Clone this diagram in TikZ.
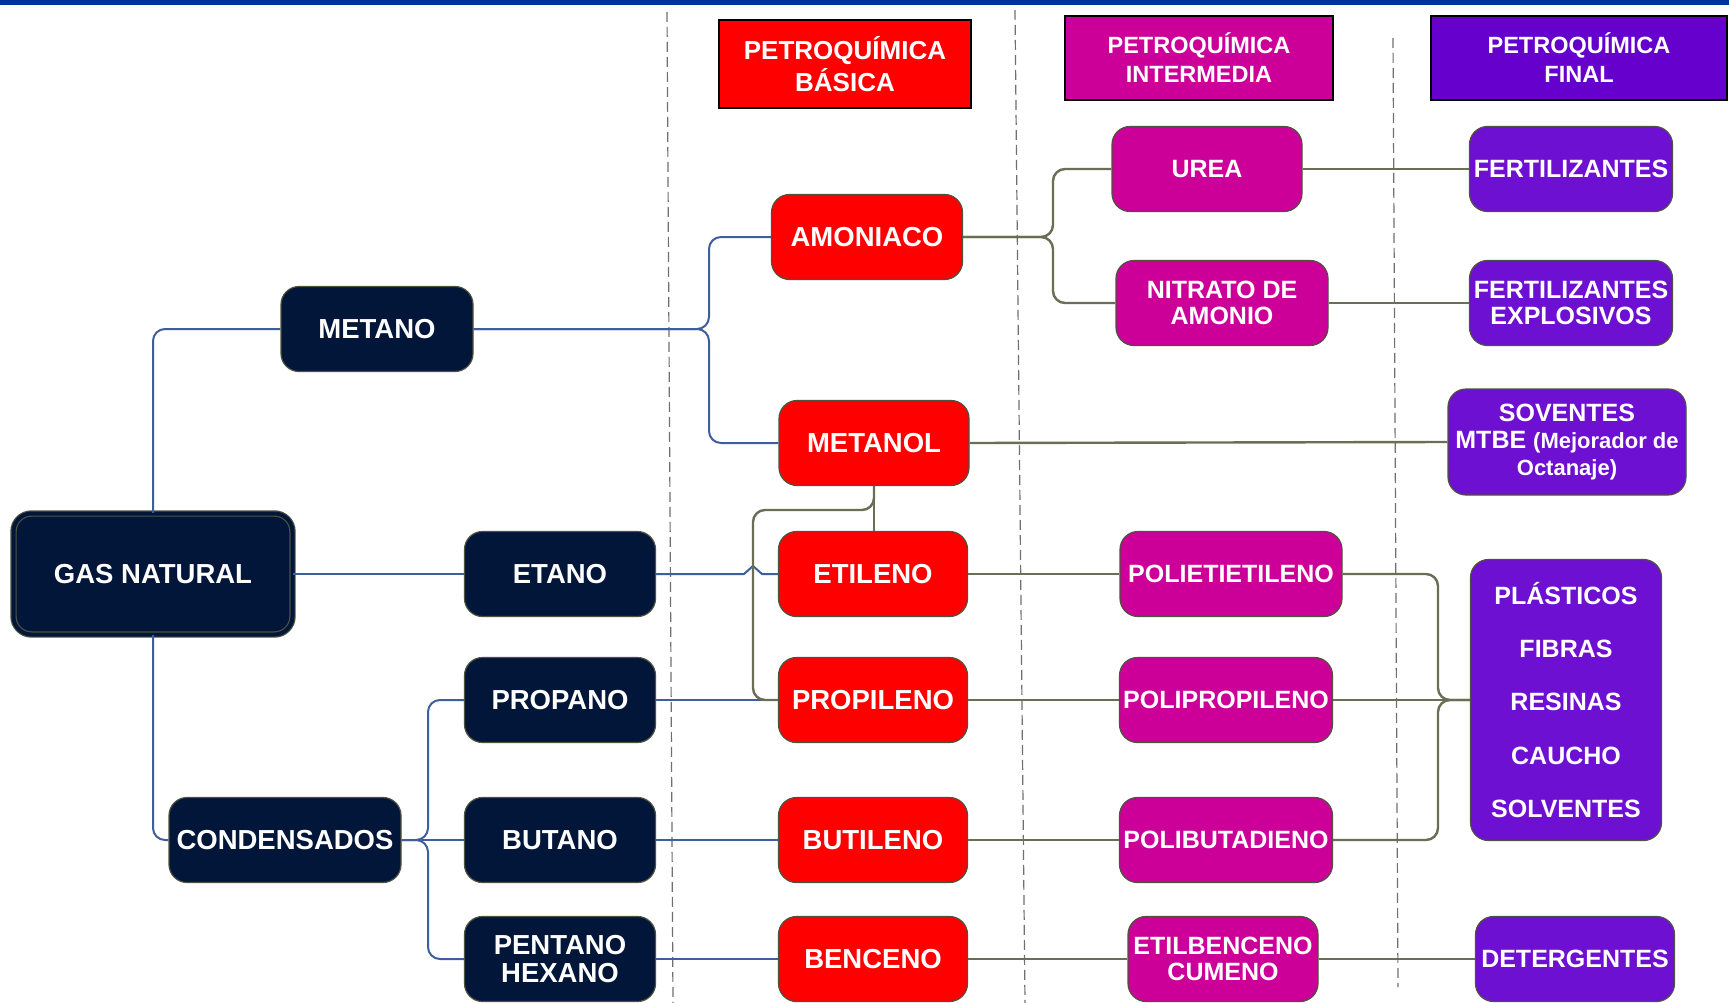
\documentclass[tikz,border=0pt]{standalone}
\usepackage{fontspec}
\setmainfont{Liberation Sans}
\usepackage{tikz}
\definecolor{gasnavy}{HTML}{02163A}
\definecolor{basred}{HTML}{FF0000}
\definecolor{intmag}{HTML}{CC0099}
\definecolor{finpurple}{HTML}{6E10D2}
\definecolor{hdrpurple}{HTML}{6600CC}
\definecolor{linkblue}{HTML}{3F5E9C}
\definecolor{linkolive}{HTML}{6B6D55}
\definecolor{boxedge}{HTML}{4E5240}
\definecolor{topbar}{HTML}{0033A0}
\definecolor{sepgray}{HTML}{707070}
\tikzset{
  chem/.style={draw=boxedge, line width=1.2pt, rounded corners=18pt, align=center, text=white, inner sep=2pt, minimum height=85pt, font=\bfseries\fontsize{25}{26.5}\selectfont},
  gasbox/.style={chem, fill=gasnavy, font=\bfseries\fontsize{27.5}{28}\selectfont},
  basbox/.style={chem, fill=basred, font=\bfseries\fontsize{27.5}{28}\selectfont},
  intbox/.style={chem, fill=intmag},
  finbox/.style={chem, fill=finpurple},
  header/.style={draw=black, line width=2pt, align=center, text=white, font=\bfseries\fontsize{23.5}{29}\selectfont},
  bluelink/.style={draw=linkblue, line width=2pt, rounded corners=12pt},
  olivelink/.style={draw=linkolive, line width=2.4pt, rounded corners=12pt},
  colsep/.style={draw=sepgray, line width=1.2pt, dash pattern=on 10pt off 5pt}
}

\begin{document}
\begin{tikzpicture}[x=1pt,y=-1pt]
  \useasboundingbox (0,0) rectangle (1729,1003);
  \fill[white] (0,0) rectangle (1729,1003);
  \fill[topbar] (0,0) rectangle (1729,5);

  % column separators
  \draw[colsep] (667,12) -- (673,1003);
  \draw[colsep] (1015,10) -- (1025,1003);
  \draw[colsep] (1393,38) -- (1398,987);

  % headers
  \node[header, fill=basred, minimum width=252pt, minimum height=88pt, font=\bfseries\fontsize{26}{32}\selectfont] (hbasica) at (845,64) {PETROQUÍMICA\\BÁSICA};
  \node[header, fill=intmag, minimum width=268pt, minimum height=84pt] (hinter) at (1199,58) {PETROQUÍMICA\\INTERMEDIA};
  \node[header, fill=hdrpurple, minimum width=296pt, minimum height=84pt] (hfinal) at (1579,58) {PETROQUÍMICA\\FINAL};

  % raw materials
  \node[gasbox, minimum width=279pt, minimum height=121pt, draw=boxedge, double=gasnavy, double distance=4pt] (gas) at (153,574) {GAS NATURAL};
  \node[gasbox, minimum width=192pt] (metano) at (377,329) {METANO};
  \node[gasbox, minimum width=191pt] (etano) at (560,574) {ETANO};
  \node[gasbox, minimum width=232pt] (conden) at (285,840) {CONDENSADOS};
  \node[gasbox, minimum width=191pt] (propano) at (560,700) {PROPANO};
  \node[gasbox, minimum width=191pt] (butano) at (560,840) {BUTANO};
  \node[gasbox, minimum width=191pt] (pentano) at (560,959) {PENTANO\\HEXANO};

  % basic
  \node[basbox, minimum width=191pt] (amoniaco) at (867,237) {AMONIACO};
  \node[basbox, minimum width=190pt] (metanol) at (874,443) {METANOL};
  \node[basbox, minimum width=189pt] (etileno) at (873,574) {ETILENO};
  \node[basbox, minimum width=189pt] (propileno) at (873,700) {PROPILENO};
  \node[basbox, minimum width=189pt] (butileno) at (873,840) {BUTILENO};
  \node[basbox, minimum width=189pt] (benceno) at (873,959) {BENCENO};

  % intermediate
  \node[intbox, minimum width=190pt] (urea) at (1207,169) {UREA};
  \node[intbox, minimum width=212pt] (nitrato) at (1222,303) {NITRATO DE\\AMONIO};
  \node[intbox, minimum width=222pt] (polietil) at (1231,574) {POLIETIETILENO};
  \node[intbox, minimum width=213pt] (polipro) at (1226,700) {POLIPROPILENO};
  \node[intbox, minimum width=213pt] (polibut) at (1226,840) {POLIBUTADIENO};
  \node[intbox, minimum width=190pt] (etilben) at (1223,959) {ETILBENCENO\\CUMENO};

  % final
  \node[finbox, minimum width=203pt] (fert) at (1571,169) {FERTILIZANTES};
  \node[finbox, minimum width=203pt] (fertexp) at (1571,303) {FERTILIZANTES\\EXPLOSIVOS};
  \node[finbox, minimum width=238pt, minimum height=106pt, font=\bfseries\fontsize{25}{27}\selectfont] (solv) at (1567,442) {SOVENTES\\MTBE {\fontsize{22}{27}\selectfont(Mejorador de}\\{\fontsize{22}{27}\selectfont Octanaje)}};
  \node[finbox, minimum width=191pt, minimum height=281pt, font=\bfseries\fontsize{25}{53.3}\selectfont] (plast) at (1566,700) {PLÁSTICOS\\FIBRAS\\RESINAS\\CAUCHO\\SOLVENTES};
  \node[finbox, minimum width=199pt] (deterg) at (1575,959) {DETERGENTES};

  % branch points
  \coordinate (metsplit) at (709,329);
  \coordinate (consplit) at (428,840);
  \coordinate (amosplit) at (1053,237);
  \coordinate (olefin) at (753,510);
  \coordinate (polsplit) at (1438,700);

  % blue links
  \draw[bluelink] (gas.north) |- (metano.west);
  \draw[bluelink] (gas.south) |- (conden.west);
  \draw[bluelink] (gas.east) -- (etano.west);
  \draw[bluelink] (metano.east) -- (metsplit) |- (amoniaco.west);
  \draw[bluelink] (metano.east) -- (metsplit) |- (metanol.west);
  \draw[bluelink] (conden.east) -- (consplit) |- (propano.west);
  \draw[bluelink] (conden.east) -- (consplit) |- (pentano.west);
  \draw[bluelink] (conden.east) -- (butano.west);
  \draw[bluelink, rounded corners=0pt] (etano.east) -- (744,574) -- (753,566) -- (762,574) -- (etileno.west);
  \draw[bluelink] (propano.east) -- (propileno.west);
  \draw[bluelink] (butano.east) -- (butileno.west);
  \draw[bluelink] (pentano.east) -- (benceno.west);

  % olive links
  \draw[olivelink] (amoniaco.east) -- (amosplit) |- (urea.west);
  \draw[olivelink] (amoniaco.east) -- (amosplit) |- (nitrato.west);
  \draw[olivelink] (urea.east) -- (fert.west);
  \draw[olivelink] (nitrato.east) -- (fertexp.west);
  \draw[olivelink] (metanol.east) -- (solv.west);
  \draw[olivelink] (metanol.south) -- (metanol.south |- etileno.north);
  \draw[olivelink] (metanol.south) |- (olefin) |- (propileno.west);
  \draw[olivelink] (etileno.east) -- (polietil.west);
  \draw[olivelink] (propileno.east) -- (polipro.west);
  \draw[olivelink] (butileno.east) -- (polibut.west);
  \draw[olivelink] (benceno.east) -- (etilben.west);
  \draw[olivelink] (etilben.east) -- (deterg.west);
  \draw[olivelink] (polietil.east) -| (polsplit) -- (plast.west);
  \draw[olivelink] (polibut.east) -| (polsplit) -- (plast.west);
  \draw[olivelink] (polipro.east) -- (plast.west);
\end{tikzpicture}
\end{document}
